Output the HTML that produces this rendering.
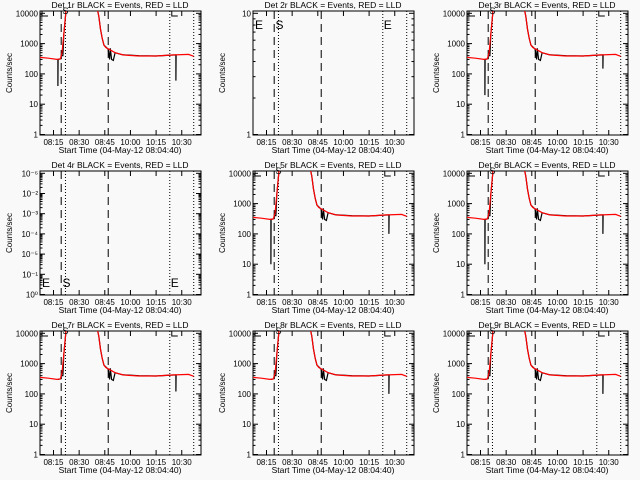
<!DOCTYPE html>
<html><head><meta charset="utf-8"><style>
html,body{margin:0;padding:0;background:#f9f9f9}
svg{display:block;font-family:"Liberation Sans",sans-serif}
</style></head><body>
<svg id="c" width="640" height="480" viewBox="0 0 640 480"></svg>
<script>
const detNames = ["1r","2r","3r","4r","5r","6r","7r","8r","9r"];
const hasData = [true,false,true,false,true,true,true,true,true];
const xTickMin = [15,30,45,60,75,90];
const xTickLabels = ["08:15","08:30","08:45","10:00","10:15","10:30"];
const dashedLines = [19.5,47];
const dottedLines = [22,83,97];
const redTimes = [7.1,12,17,19,20,21,22,22.5,40.5,41.5,42.5,43.5,44.5,45.5,47.5,51,56,65,75,84,94,97];
const redVals  = [350,330,300,310,500,2000,8000,15000,15000,8000,3000,1500,900,750,650,500,420,390,390,420,440,380];
const blackTimes = [17.6,17.6,17.7,19.5,19.5,20.5,21,22,22.5,40.5,41.5,42.5,43.5,44.5,47,47.8,48.2,49,50,51,55,65,75,85,86.6,86.6,86.7];
const blackVals  = [300,40,300,320,400,400,2000,8000,15000,15000,8000,3000,1500,900,650,300,700,300,280,500,430,400,390,420,420,60,420];
const earlyDip = [40,0,20,0,10,10,300,300,300];
const lateDip  = [60,0,150,0,100,100,120,100,100];
const svg = document.getElementById('c');
const NS = "http://www.w3.org/2000/svg";
function mk(tag, attrs, parent){const e=document.createElementNS(NS,tag);for(const k in attrs)e.setAttribute(k,attrs[k]);(parent||svg).appendChild(e);return e;}
function xs(ox,m){return ox+53.5+(m-15)*1.71;}
for(let i=0;i<9;i++){
  const c=i%3, r=Math.floor(i/3);
  const ox=Math.round(c*213.33), oy=r*160;
  const L=ox+40,R=ox+201,T=oy+11,B=oy+135;
  const g=mk('g',{});
  
  
  const t=mk('text',{x:ox+120,y:oy+8,'font-size':8.5,'text-anchor':'middle'},g);
  t.textContent='Det '+detNames[i]+' BLACK = Events, RED = LLD';
  
  
  const yl=mk('text',{x:0,y:0,'font-size':8,'text-anchor':'middle',transform:`translate(${ox+12},${oy+73}) rotate(-90)`},g);
  yl.textContent='Counts/sec';
  
  
  const xl=mk('text',{x:ox+120,y:oy+153,'font-size':8.5,'text-anchor':'middle'},g);
  xl.textContent='Start Time (04-May-12 08:04:40)';
  
  
  mk('rect',{x:L,y:T,width:R-L,height:B-T,fill:'none',stroke:'#000','stroke-width':1},g);
  xTickMin.forEach((m,k)=>{
    const x=xs(ox,m);
    mk('line',{x1:x,x2:x,y1:B,y2:B-5,stroke:'#000'},g);
    mk('line',{x1:x,x2:x,y1:T,y2:T+5,stroke:'#000'},g);
    const tl=mk('text',{x:x,y:oy+145,'font-size':8,'text-anchor':'middle'},g);
    tl.textContent=xTickLabels[k];
    
    
  });
  let ylo,yhi,labels;
  if(i===1){ylo=0;yhi=1;labels=["1","10"];}
  else if(i===3){ylo=0;yhi=6;labels=["10⁰","10⁻¹","10⁻⁵","10⁻⁴","10⁻³","10⁻²","10⁻⁶"];}
  else {ylo=0;yhi=4;labels=["1","10","100","1000","10000"];}
  const ys=v=>B-0.5-(Math.log10(v)-ylo)/(yhi-ylo)*(B-0.5-(T+2.3));
  for(let d=ylo;d<=yhi;d++){
    const y=ys(Math.pow(10,d));
    mk('line',{x1:L,x2:L+5,y1:y,y2:y,stroke:'#000'},g);
    mk('line',{x1:R,x2:R-5,y1:y,y2:y,stroke:'#000'},g);
    const tl=mk('text',{x:L-2,y:y+3,'font-size':8,'text-anchor':'end'},g);
    tl.textContent=labels[d-ylo];
    
    
    if(d<yhi)for(let k=2;k<10;k++){const yy=ys(k*Math.pow(10,d));
      mk('line',{x1:L,x2:L+2.5,y1:yy,y2:yy,stroke:'#000'},g);
      mk('line',{x1:R,x2:R-2.5,y1:yy,y2:yy,stroke:'#000'},g);}
  }
  dashedLines.forEach(m=>{const x=xs(ox,m);mk('line',{x1:x,x2:x,y1:T,y2:B,stroke:'#000','stroke-dasharray':'8,5'},g);});
  dottedLines.forEach(m=>{const x=xs(ox,m);mk('line',{x1:x,x2:x,y1:T,y2:B,stroke:'#000','stroke-dasharray':'1,2'},g);});
  const cid='clip'+i;
  const cp=mk('clipPath',{id:cid},g);mk('rect',{x:L,y:T,width:R-L,height:B-T},cp);
  if(hasData[i]){
    const bv=blackVals.slice();bv[1]=earlyDip[i];bv[25]=lateDip[i];
    const bp=blackTimes.map((m,k)=>(k?'L':'M')+xs(ox,m).toFixed(1)+','+ys(bv[k]).toFixed(1)).join('');
    const pb=mk('path',{d:bp,fill:'none',stroke:'#000','stroke-width':1.2,'clip-path':`url(#${cid})`},g);
    
    
    const rp=redTimes.map((m,k)=>(k?'L':'M')+xs(ox,m).toFixed(1)+','+ys(redVals[k]).toFixed(1)).join('');
    const pr=mk('path',{d:rp,fill:'none',stroke:'#f00','stroke-width':1.2,'clip-path':`url(#${cid})`},g);
    
    
    [[L+2,T+4],[xs(ox,83)+2,T+4]].forEach(p=>mk('path',{d:`M${p[0]},${T}L${p[0]},${p[1]+1}L${p[0]+6},${p[1]+1}`,fill:'none',stroke:'#000'},g));
    mk('text',{x:xs(ox,22)-3,y:T+3,'font-size':9},g).textContent='S';
  } else {
    const ey=(i===1)?T+18:B-8;
    [[L+2,'E'],[xs(ox,22)-3,'S'],[xs(ox,83)+1,'E']].forEach(p=>{
      const tx=mk('text',{x:p[0],y:ey,'font-size':12},g);tx.textContent=p[1];
      
      
    });
  }
}
</script>
</body></html>
